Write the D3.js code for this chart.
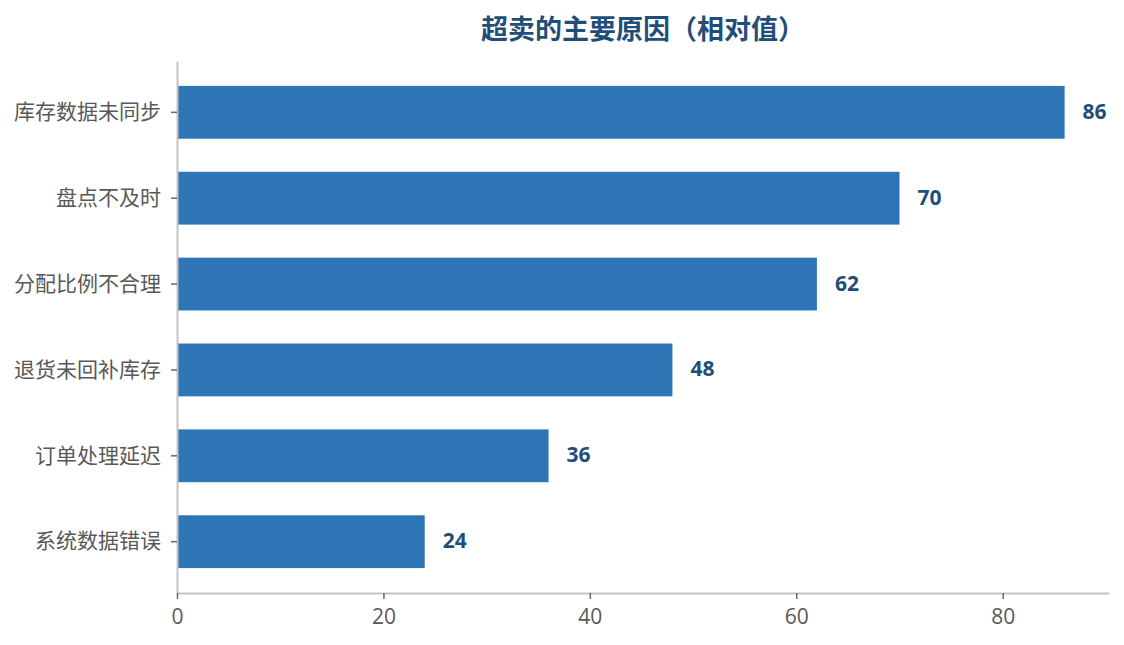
<!DOCTYPE html>
<html><head><meta charset="utf-8">
<script src="https://cdn.jsdelivr.net/npm/d3@7"></script>
<style>body{margin:0;background:#fff}</style>
</head><body>
<svg id="c" width="1124" height="645"></svg>
<script>
const categories = ["库存数据未同步","盘点不及时","分配比例不合理","退货未回补库存","订单处理延迟","系统数据错误"];
const values = [86, 70, 62, 48, 36, 24];
const xTicks = [0, 20, 40, 60, 80];
const title = "超卖的主要原因（相对值）";

const svg = d3.select("#c");
const m = {left:177, right:1109, top:61, bottom:593};
const x = d3.scaleLinear().domain([0, d3.max(values)*1.05]).range([m.left, m.right]);
const y = d3.scaleBand().domain(categories).range([m.top, m.bottom]).paddingInner(0.385).paddingOuter(0.29);
const cjk = "'Noto Sans CJK SC', 'Microsoft YaHei', sans-serif";
const num = "'Open Sans', 'Noto Sans', sans-serif";

svg.append("text").attr("x", (m.left+m.right)/2).attr("y", 27.5)
  .attr("text-anchor","middle").attr("dominant-baseline","central")
  .attr("font-family", cjk).attr("font-weight","bold").attr("font-size", 27)
  .attr("fill","#1f4e79").text(title);

svg.append("g").selectAll("rect").data(values).join("rect")
  .attr("x", x(0)).attr("y", (d,i)=>y(categories[i]))
  .attr("width", d=>x(d)-x(0)).attr("height", y.bandwidth())
  .attr("fill","#2e75b6");

svg.append("g").selectAll("text").data(values).join("text")
  .attr("x", d=>x(d)+18).attr("y", (d,i)=>y(categories[i])+y.bandwidth()/2 - 1.5)
  .attr("dominant-baseline","central")
  .attr("font-family", num).attr("font-weight","bold").attr("font-size", 21)
  .attr("fill","#1f4e79").text(d=>d);

const yAxis = svg.append("g").attr("transform",`translate(${m.left},0)`)
  .call(d3.axisLeft(y).tickSize(6).tickPadding(10).tickSizeOuter(0));
yAxis.select(".domain").attr("stroke","#c3c3c3").attr("stroke-width",2);
yAxis.selectAll(".tick line").attr("stroke","#666").attr("stroke-width",1.5);
yAxis.selectAll(".tick text").attr("font-family", cjk).attr("font-size", 21).attr("fill","#595959");

const xAxis = svg.append("g").attr("transform",`translate(0,${m.bottom})`)
  .call(d3.axisBottom(x).tickValues(xTicks).tickSize(6).tickPadding(10).tickSizeOuter(0));
xAxis.select(".domain").attr("stroke","#c3c3c3").attr("stroke-width",2);
xAxis.selectAll(".tick line").attr("stroke","#666").attr("stroke-width",1.5);
xAxis.selectAll(".tick text").attr("font-family", num).attr("font-size", 21).attr("fill","#595959");
</script>
</body></html>
